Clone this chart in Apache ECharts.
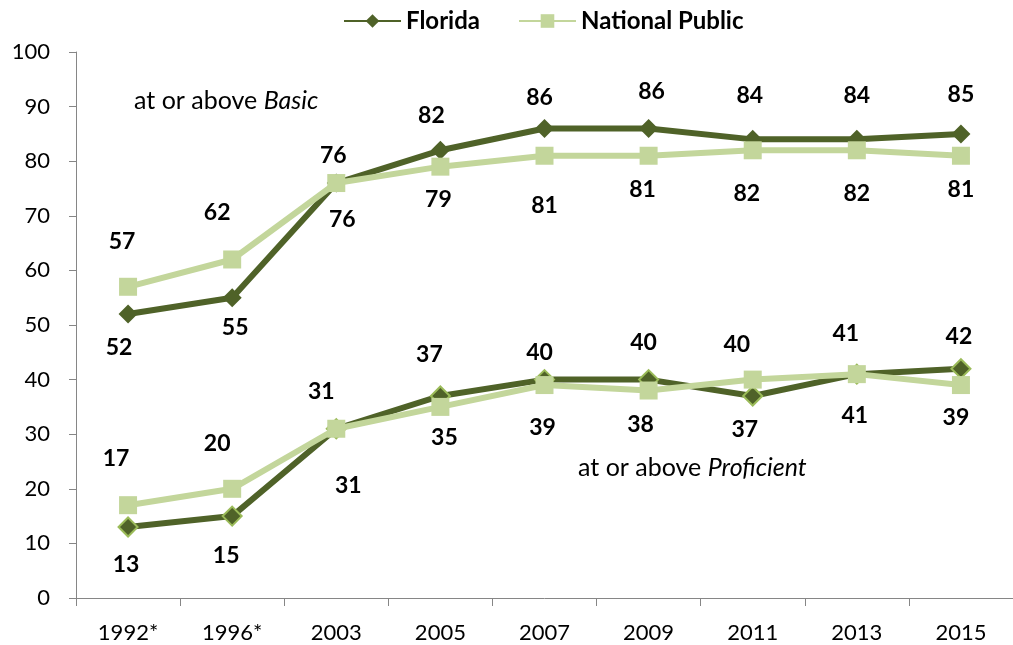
<!DOCTYPE html>
<html>
<head>
<meta charset="utf-8">
<script src="https://cdn.jsdelivr.net/npm/echarts@6/dist/echarts.min.js"></script>
<style>html,body{margin:0;padding:0;background:#fff}#c{width:1013px;height:645px}</style>
</head>
<body>
<div id="c"></div>
<script>
const categories = ['1992*','1996*','2003','2005','2007','2009','2011','2013','2015'];
const floridaBasic = [52,55,76,82,86,86,84,84,85];
const nationalBasic = [57,62,76,79,81,81,82,82,81];
const floridaProficient = [13,15,31,37,40,40,37,41,42];
const nationalProficient = [17,20,31,35,39,38,40,41,39];
const yTicks = {min:0, max:100, interval:10};

// label offsets (styling only)
const offFB = [[-9,33],[3,30],[-3,-27],[-9,-35],[-5,-31],[3,-37],[-3,-44],[0,-44],[0,-39]];
const offNB = [[-6,-45],[-15,-47],[6,37],[-2,33],[0,50],[-6,34],[-6,43],[0,43],[0,34]];
const offFP = [[-2,38],[-6,39],[-15,-37],[-11,-41],[-5,-27],[-5,-37],[-8,34],[-11,-41],[-2,-32]];
const offNP = [[-12,-47],[-15,-45],[12,57],[4,31],[-2,43],[-8,34],[-16,-35],[-2,41],[-5,33]];

const FONT = 'Lato';
const DARK = '#4F6228', LIGHT = '#C3D69B', BORDER = '#9BBB59';

function mk(vals, offs) {
  return vals.map((v,i)=>({value:v, label:{offset:offs[i]}}));
}
function series(name, vals, offs, color, symbol, size, borderColor, borderWidth, z) {
  return {
    name, type:'line', data: mk(vals, offs), z,
    symbol, symbolSize: size,
    lineStyle:{color, width:6},
    itemStyle:{color, borderColor: borderColor || color, borderWidth: borderWidth||0},
    label:{show:true, position:'inside', color:'#000', fontFamily:FONT, fontWeight:'bold', fontSize:23},
    emphasis:{disabled:true}, animation:false
  };
}

const chart = echarts.init(document.getElementById('c'), null, {renderer:'canvas'});
chart.setOption({
  animation:false,
  backgroundColor:'#fff',
  legend:{
    data:['Florida','National Public'], top:4, left:338,
    itemWidth:57, itemHeight:17, itemGap:38,
    textStyle:{fontFamily:FONT, fontWeight:'bold', fontSize:24, color:'#000'}
  },
  grid:{left:76, top:52, width:945, height:546, containLabel:false},
  xAxis:{
    type:'category', data:categories, boundaryGap:true,
    axisLine:{lineStyle:{color:'#868686', width:1}},
    axisTick:{show:true, length:8, lineStyle:{color:'#868686'}},
    axisLabel:{fontFamily:FONT, fontSize:22, color:'#000', margin:24}
  },
  yAxis:{
    type:'value', min:yTicks.min, max:yTicks.max, interval:yTicks.interval,
    splitLine:{show:false},
    axisLine:{show:true, lineStyle:{color:'#868686', width:1}},
    axisTick:{show:true, length:7, lineStyle:{color:'#868686'}},
    axisLabel:{fontFamily:FONT, fontSize:22, color:'#000', margin:26}
  },
  series:[
    series('Florida', floridaBasic, offFB, DARK, 'diamond', 19, DARK, 0, 2),
    series('Florida', floridaProficient, offFP, DARK, 'diamond', 19, BORDER, 2, 2),
    series('National Public', nationalBasic, offNB, LIGHT, 'rect', 18, LIGHT, 0, 3),
    series('National Public', nationalProficient, offNP, LIGHT, 'rect', 18, LIGHT, 0, 3)
  ],
  graphic:[
    {type:'text', left:134, top:88, style:{
      text:'{n|at or above }{i|Basic}',
      rich:{n:{fontFamily:FONT, fontSize:25, fill:'#000'}, i:{fontFamily:FONT, fontSize:25, fontStyle:'italic', fill:'#000'}}
    }},
    {type:'text', left:578, top:455, style:{
      text:'{n|at or above }{i|Proficient}',
      rich:{n:{fontFamily:FONT, fontSize:25, fill:'#000'}, i:{fontFamily:FONT, fontSize:25, fontStyle:'italic', fill:'#000'}}
    }}
  ]
});
</script>
</body>
</html>
